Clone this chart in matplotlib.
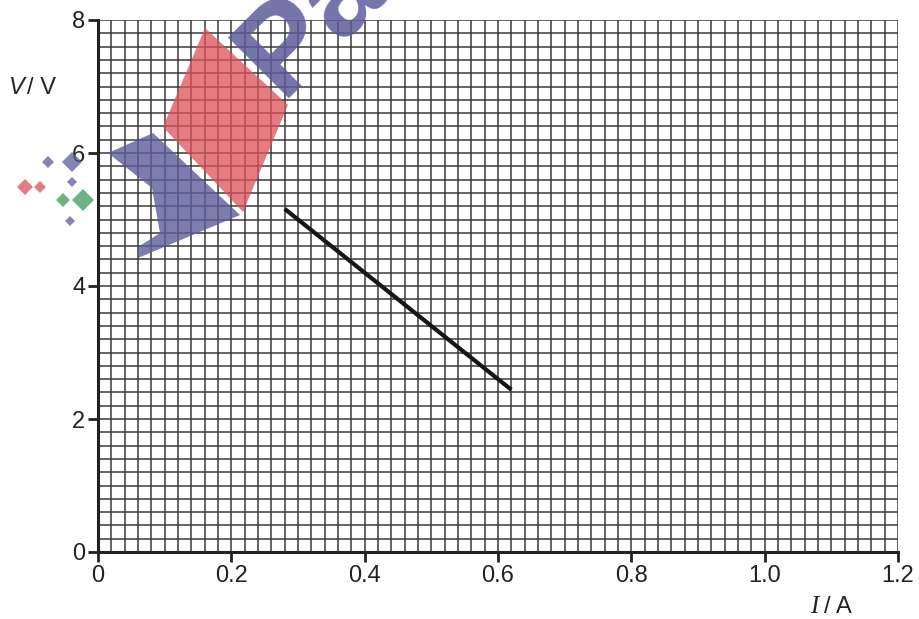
import matplotlib
matplotlib.use("Agg")
import matplotlib.pyplot as plt
from matplotlib.patches import Polygon
import numpy as np

# --- data ---
current_A = [0.28, 0.62]
voltage_V = [5.16, 2.44]

x_ticks = [0, 0.2, 0.4, 0.6, 0.8, 1.0, 1.2]
x_labels = ["0", "0.2", "0.4", "0.6", "0.8", "1.0", "1.2"]
y_ticks = [0, 2, 4, 6, 8]
y_labels = ["0", "2", "4", "6", "8"]

W, H = 920, 619
fig = plt.figure(figsize=(W / 100, H / 100), dpi=100)
ax = fig.add_axes([98 / W, 1 - 552 / H, 800 / W, 532 / H])

ax.set_xlim(0, 1.2)
ax.set_ylim(0, 8)

# graph paper grid
for xv in np.arange(0, 1.2001, 0.02):
    ax.axvline(xv, color="#3a3a3a", lw=1.1, zorder=1)
for yv in np.arange(0, 8.001, 0.2):
    ax.axhline(yv, color="#3a3a3a", lw=1.1, zorder=1)

ax.plot(current_A, voltage_V, color="#161616", lw=3, solid_capstyle="butt", zorder=5)

for s in ["top", "right"]:
    ax.spines[s].set_visible(False)
for s in ["left", "bottom"]:
    ax.spines[s].set_linewidth(2.2)
    ax.spines[s].set_color("#222222")
    ax.spines[s].set_zorder(6)

ax.set_xticks(x_ticks)
ax.set_xticklabels(x_labels)
ax.set_yticks(y_ticks)
ax.set_yticklabels(y_labels)
ax.tick_params(direction="out", length=7, width=2, color="#222222",
               labelsize=17, pad=2)
for lab in ax.get_xticklabels() + ax.get_yticklabels():
    lab.set_fontfamily("Liberation Sans")
    lab.set_color("#222222")

# axis labels
fig.text(9 / W, 1 - 88 / H, "V", fontsize=17, style="italic",
         family="Liberation Sans", color="#222222", va="center")
fig.text(27 / W, 1 - 88 / H, "/ V", fontsize=17,
         family="Liberation Sans", color="#222222", va="center")
fig.text(810 / W, 1 - 607 / H, "I", fontsize=18, style="italic",
         family="Liberation Serif", color="#222222", va="center")
fig.text(824 / W, 1 - 607 / H, "/ A", fontsize=17,
         family="Liberation Sans", color="#222222", va="center")

# watermark logo (decoration, figure pixel coordinates)
def px(pts):
    return [(x / W, 1 - y / H) for x, y in pts]

blue = "#5c5c9a"
red = "#dc5058"
green = "#3f9a5c"
fig.patches.append(Polygon(px([(163, 127), (205, 28), (288, 105), (243, 212)]),
                           closed=True, transform=fig.transFigure,
                           facecolor=red, alpha=0.75, edgecolor="none", zorder=3))
fig.patches.append(Polygon(px([(108, 153), (153, 133), (240, 215), (138, 258),
                               (138, 247), (160, 233), (152, 188)]),
                           closed=True, transform=fig.transFigure,
                           facecolor=blue, alpha=0.8, edgecolor="none", zorder=3))
fig.text(312 / W, 1 - 22 / H, "Pa", fontsize=90, fontweight="bold", rotation=45,
         family="Liberation Sans", color=blue, alpha=0.85,
         ha="center", va="center", zorder=3)

diamonds = [(48, 162, 6, blue), (72, 162, 10, blue), (72, 182, 5, blue),
            (70, 221, 5, blue), (25, 187, 8, red), (40, 187, 6, red),
            (63, 200, 7, green), (83, 200, 11, green)]
for cx, cy, r, c in diamonds:
    fig.patches.append(Polygon(px([(cx - r, cy), (cx, cy - r), (cx + r, cy), (cx, cy + r)]),
                               closed=True, transform=fig.transFigure,
                               facecolor=c, alpha=0.75, edgecolor="none", zorder=3))

fig.savefig("out.png", dpi=100)
